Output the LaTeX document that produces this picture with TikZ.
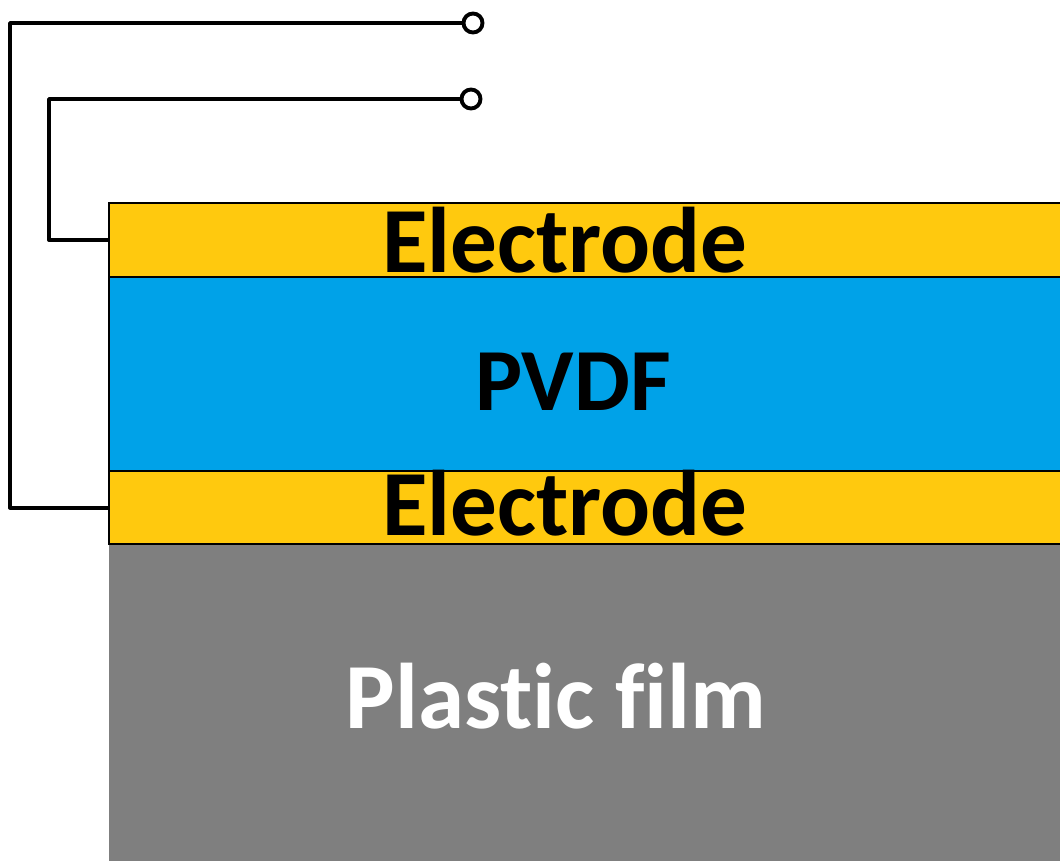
\documentclass[tikz,border=0pt]{standalone}
\usepackage{fontspec}
\setmainfont{Carlito}[Ligatures=NoCommon]
\usetikzlibrary{positioning}
\definecolor{cEl}{HTML}{FFC90E}
\definecolor{cPv}{HTML}{00A2E8}
\definecolor{cPl}{HTML}{7F7F7F}
\tikzset{
  layer/.style={draw=black, line width=0.45pt, minimum width=10cm, inner sep=0pt, outer sep=0pt, anchor=north west},
  wire/.style={line width=1.1pt, black, line join=round},
  term/.style={circle, draw=black, fill=white, line width=1.1pt, minimum size=0.19cm, inner sep=0pt},
  lblEl/.style={font=\bfseries\fontsize{26.5}{26.5}\selectfont, anchor=base},
  lblPv/.style={font=\bfseries\fontsize{25.2}{25.2}\selectfont, anchor=base},
  lblPl/.style={font=\bfseries\fontsize{26.5}{26.5}\selectfont, anchor=base},
}

\begin{document}
\begin{tikzpicture}[x=0.01cm, y=-0.01cm]
\useasboundingbox (0,0) rectangle (1060,860);
\clip (0,0) rectangle (1060,860);
% layer stack
\node[layer, fill=cEl, minimum height=0.74cm] (elTop) at (109,203) {};
\node[layer, fill=cPv, minimum height=1.94cm] (pvdf) at (elTop.south west) {};
\node[layer, fill=cEl, minimum height=0.73cm] (elBot) at (pvdf.south west) {};
\node[layer, fill=cPl, draw=none, minimum height=3.3cm] (film) at (elBot.south west) {};
\draw[black, line width=0.45pt] (elBot.south west) -- (elBot.south east);
% labels
\node[lblEl] (tElTop) at (565,272) {Electrode};
\node[lblPv] (tPvdf) at (573,410) {PVDF};
\node[lblEl] (tElBot) at (565,535) {Electrode};
\node[lblPl, text=white] (tFilm) at (556,728) {Plastic film};
% terminals and wires
\node[term] (tOut) at (473,23) {};
\node[term] (tIn) at (471,99) {};
\draw[wire] (elBot.west) -- ++(-99,0) |- (tOut);
\draw[wire] (elTop.west) -- ++(-60,0) |- (tIn);
\end{tikzpicture}
\end{document}
